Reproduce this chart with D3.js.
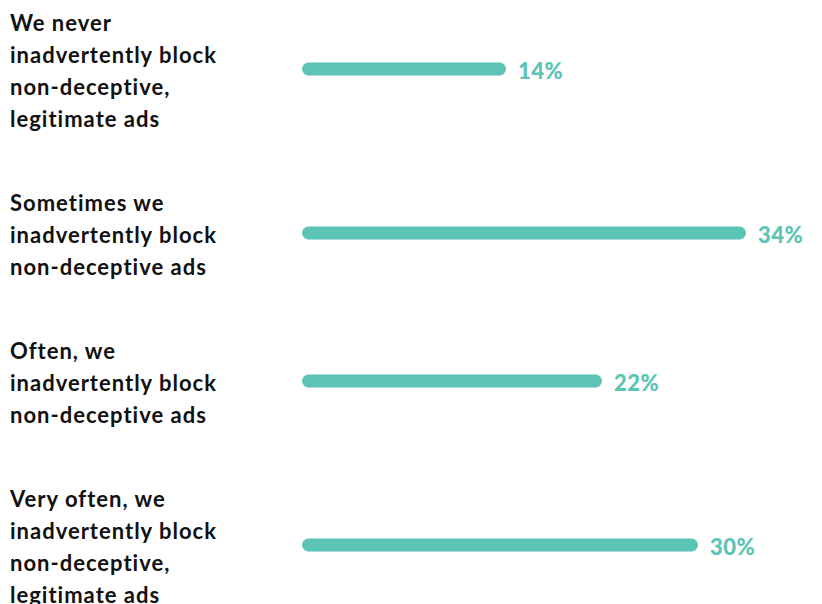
<!DOCTYPE html>
<html>
<head>
<meta charset="utf-8">
<script src="https://cdn.jsdelivr.net/npm/d3@7"></script>
<style>
  html, body { margin: 0; padding: 0; background: #ffffff; }
  svg { display: block; }
  text { font-variant-ligatures: none; font-feature-settings: "liga" 0; }
</style>
</head>
<body>
<svg id="chart" width="822" height="604"></svg>
<script>
// Answer options (each entry is one wrapped label line) and their shares in percent
const categoryLines = [
  ["We never", "inadvertently block", "non-deceptive,", "legitimate ads"],
  ["Sometimes we", "inadvertently block", "non-deceptive ads"],
  ["Often, we", "inadvertently block", "non-deceptive ads"],
  ["Very often, we", "inadvertently block", "non-deceptive,", "legitimate ads"]
];
const values = [14, 34, 22, 30];
const valueLabels = ["14%", "34%", "22%", "30%"];

const teal = "#5bc4b4";
const fontFamily = "Lato, 'Open Sans', sans-serif";
const fontSize = 22;
const lineHeight = 32;
const capHeight = 16;
const rowGap = 52;      // vertical space between label blocks
const barLeft = 302;
const barLead = 36;     // rounded lead-in before the value portion of each bar
const barHeight = 13;

const svg = d3.select("#chart");

// Row layout: each block takes its line count plus a gap; rows stack top to bottom
const rowHeights = categoryLines.map(l => l.length * lineHeight + rowGap);
let acc = -19;
const rowCenters = rowHeights.map(h => { const c = acc + h / 2; acc += h; return c; });

const x = d3.scaleLinear().domain([0, 34]).range([0, 408]);

const rows = svg.selectAll("g.row")
  .data(values.map((v, i) => ({ v, lines: categoryLines[i], label: valueLabels[i], c: rowCenters[i] })))
  .join("g")
  .attr("class", "row");

// Category labels, vertically centred on the row
rows.append("text")
  .attr("x", 10)
  .attr("font-family", fontFamily)
  .attr("font-weight", 700)
  .attr("font-size", fontSize)
  .attr("letter-spacing", 1)
  .attr("fill", "#111111")
  .each(function (d) {
    const first = d.c - (d.lines.length - 1) * lineHeight / 2 + capHeight / 2;
    d3.select(this).selectAll("tspan")
      .data(d.lines)
      .join("tspan")
      .attr("x", 10)
      .attr("y", (t, j) => first + j * lineHeight)
      .text(t => t);
  });

// Bars with fully rounded ends
rows.append("rect")
  .attr("x", barLeft)
  .attr("y", d => d.c - 2 - barHeight / 2)
  .attr("width", d => barLead + x(d.v))
  .attr("height", barHeight)
  .attr("rx", barHeight / 2)
  .attr("fill", teal);

// Value labels right after each bar
rows.append("text")
  .attr("x", d => barLeft + barLead + x(d.v) + 12)
  .attr("y", d => d.c + capHeight / 2)
  .attr("font-family", fontFamily)
  .attr("font-weight", 900)
  .attr("font-size", fontSize)
  .attr("letter-spacing", 0.5)
  .attr("fill", teal)
  .text(d => d.label);
</script>
</body>
</html>
